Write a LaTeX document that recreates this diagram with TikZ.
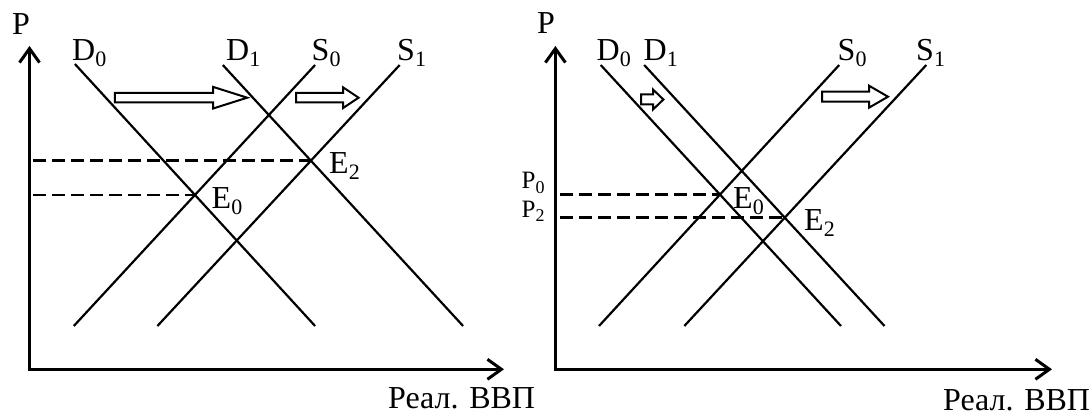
\documentclass[tikz,border=0pt]{standalone}
\usepackage{fontspec}
\setmainfont{Liberation Serif}
\usetikzlibrary{arrows.meta}
\newcommand\lab[2]{#1\raisebox{-6pt}{\fontsize{22}{22}\selectfont #2}}
\newcommand\labs[2]{#1\raisebox{-4.5pt}{\fontsize{18}{18}\selectfont #2}}
\newcommand\blockarr[6]{% x1,x2,xb,yc,h,H
  \draw[barr] (#1,#4-#5) -- (#3,#4-#5) -- (#3,#4-#6) -- (#2,#4) -- (#3,#4+#6) -- (#3,#4+#5) -- (#1,#4+#5) -- cycle;}
\begin{document}
\begin{tikzpicture}[x=1pt,y=-1pt,
  axis/.style={line width=3.6pt,-{Straight Barb[length=14pt,width=20pt,line width=3pt]}},
  curve/.style={line width=2.2pt},
  dashln/.style={line width=2.6pt,dash pattern=on 13pt off 6pt},
  barr/.style={line width=2pt,fill=white,line join=miter},
  lbl/.style={font=\fontsize{32}{34}\selectfont,inner sep=0pt,anchor=base west},
  lbls/.style={font=\fontsize{25}{26}\selectfont,inner sep=0pt,anchor=base west}]
\useasboundingbox (0,0) rectangle (1091,417);
% ---------------- left panel ----------------
\coordinate (Lo) at (29.5,369.3);
\coordinate (Lyt) at (29.5,46);
\coordinate (Lxt) at (504,369.3);
\draw[axis] (Lo) -- (Lyt);
\draw[axis] ([xshift=-1.8pt]Lo) -- (Lxt);
\coordinate (LD0a) at (74.9,64);   \coordinate (LD0b) at (315.1,326);
\coordinate (LD1a) at (222.8,65);  \coordinate (LD1b) at (463.1,326);
\coordinate (LS0a) at (73.8,326);  \coordinate (LS0b) at (315.1,65);
\coordinate (LS1a) at (157.4,326); \coordinate (LS1b) at (399.7,65);
\draw[curve] (LD0a) -- (LD0b);
\draw[curve] (LD1a) -- (LD1b);
\draw[curve] (LS0a) -- (LS0b);
\draw[curve] (LS1a) -- (LS1b);
\coordinate (LE0) at (intersection of LD0a--LD0b and LS0a--LS0b);
\coordinate (LE2) at (intersection of LD1a--LD1b and LS1a--LS1b);
\coordinate (LE0s) at (33,0);
\draw[dashln] (LE0s |- LE0) -- (LE0);
\draw[dashln] (LE0s |- LE2) -- (LE2);
\node[lbl] (LP) at (12,35) {P};
\node[lbl] (LlD0) at (72,61) {\lab{D}{0}};
\node[lbl] (LlD1) at (226,61) {\lab{D}{1}};
\node[lbl] (LlS0) at (311.5,61) {\lab{S}{0}};
\node[lbl] (LlS1) at (397,61) {\lab{S}{1}};
\node[lbl] (LlE2) at (329,173) {\lab{E}{2}};
\node[lbl] (LlE0) at (211.5,208) {\lab{E}{0}};
\node[lbl] (LX) at (388,408) {Реал. ВВП};
\blockarr{114.9}{247.2}{213.1}{97.7}{4.8}{10.8}
\blockarr{296}{358.6}{343}{97.7}{4.8}{10.4}
% ---------------- right panel ----------------
\coordinate (Ro) at (555.4,369.3);
\coordinate (Ryt) at (555.4,46);
\coordinate (Rxt) at (1052,369.3);
\draw[axis] (Ro) -- (Ryt);
\draw[axis] ([xshift=-1.8pt]Ro) -- (Rxt);
\coordinate (RD0a) at (600.7,65);  \coordinate (RD0b) at (841,326);
\coordinate (RD1a) at (644.2,65);  \coordinate (RD1b) at (884.5,326);
\coordinate (RS0a) at (599,326);   \coordinate (RS0b) at (839.2,65);
\coordinate (RS1a) at (684.3,326); \coordinate (RS1b) at (926.3,65);
\draw[curve] (RD0a) -- (RD0b);
\draw[curve] (RD1a) -- (RD1b);
\draw[curve] (RS0a) -- (RS0b);
\draw[curve] (RS1a) -- (RS1b);
\coordinate (RE0) at (intersection of RD0a--RD0b and RS0a--RS0b);
\coordinate (RE2) at (intersection of RD1a--RD1b and RS1a--RS1b);
\coordinate (RE0s) at (560,0);
\draw[dashln] (RE0s |- RE0) -- (RE0);
\draw[dashln] (RE0s |- RE2) -- (RE2);
\node[lbl] (RP) at (537,34) {P};
\node[lbl] (RlD0) at (596.5,61) {\lab{D}{0}};
\node[lbl] (RlD1) at (643.5,61) {\lab{D}{1}};
\node[lbl] (RlS0) at (837.5,61) {\lab{S}{0}};
\node[lbl] (RlS1) at (916,61) {\lab{S}{1}};
\node[lbl] (RlE0) at (733,208) {\lab{E}{0}};
\node[lbl] (RlE2) at (804,230) {\lab{E}{2}};
\node[lbls] (RlP0) at (521.5,188.5) {\labs{P}{0}};
\node[lbls] (RlP2) at (521.5,217) {\labs{P}{2}};
\node[lbl] (RX) at (943,410) {Реал. ВВП};
\blockarr{641}{663.4}{653}{99.5}{5}{10}
\blockarr{822}{888}{869}{96.7}{5}{11}
\end{tikzpicture}
\end{document}
